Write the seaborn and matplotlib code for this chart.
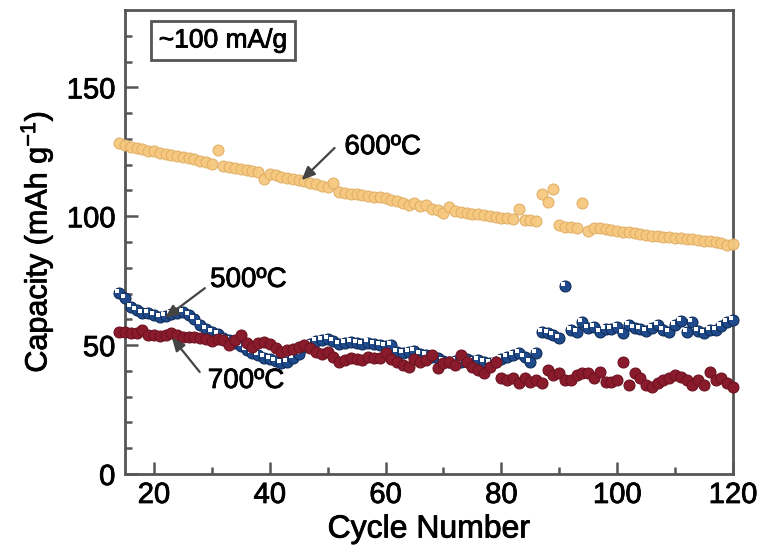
import matplotlib
matplotlib.use("Agg")
import numpy as np
import pandas as pd
import seaborn as sns
import matplotlib.pyplot as plt
import matplotlib.patheffects as pe
from matplotlib.transforms import offset_copy

cycles = list(range(14, 121))

cap_600 = [128.5, 127.5, 127.0, 126.6, 126.0, 125.5, 125.2, 124.7, 124.3, 123.9,
           123.5, 123.0, 122.5, 122.1, 121.6, 121.0, 120.4, 125.6, 119.5, 119.0,
           118.8, 118.3, 118.0, 117.5, 117.0, 114.5, 116.5, 116.0, 115.4, 115.0,
           114.5, 114.0, 113.5, 113.0, 112.5, 111.8, 111.5, 113.0, 109.5, 109.2,
           108.8, 108.5, 108.3, 108.0, 107.6, 107.3, 107.0, 106.5, 106.0, 105.0,
           104.5, 105.2, 103.8, 104.5, 103.0, 102.5, 101.2, 103.5, 102.0, 101.5,
           101.2, 101.0, 100.8, 100.5, 100.2, 99.8, 99.5, 99.2, 98.8, 102.8,
           98.5, 98.5, 98.0, 108.6, 105.5, 110.5, 96.6, 96.0, 95.8, 95.4,
           105.1, 94.4, 95.6, 95.3, 95.0, 94.8, 94.2, 94.0, 93.8, 93.5,
           93.2, 92.8, 92.5, 92.3, 92.0, 91.8, 91.5, 91.4, 91.2, 91.0,
           90.8, 90.5, 90.3, 90.0, 89.8, 89.0, 89.4]

cap_500 = [70.1, 68.2, 64.9, 63.6, 62.3, 62.3, 61.7, 61.0, 61.2, 62.0,
           62.6, 62.7, 61.7, 60.0, 58.0, 56.2, 55.2, 54.2, 52.8, 52.0,
           50.7, 49.8, 48.1, 47.0, 46.0, 45.2, 44.5, 43.8, 43.0, 43.5,
           44.9, 46.5, 49.4, 50.5, 51.5, 52.0, 52.2, 51.5, 50.4, 50.8,
           51.2, 50.9, 50.5, 51.0, 50.5, 50.0, 49.5, 50.0, 47.4, 46.8,
           47.5, 47.8, 46.5, 46.0, 45.5, 44.9, 44.0, 43.6, 44.0, 43.5,
           44.5, 44.0, 44.2, 43.5, 42.9, 43.5, 44.5, 45.5, 46.2, 47.0,
           45.5, 43.6, 46.8, 55.2, 54.6, 54.0, 52.6, 72.9, 55.9, 55.2,
           59.1, 56.5, 56.9, 55.2, 56.1, 56.1, 57.1, 54.8, 57.8, 56.5,
           56.1, 55.6, 56.5, 57.8, 55.9, 55.2, 57.8, 59.5, 55.2, 59.1,
           55.6, 54.6, 55.9, 55.9, 57.4, 59.1, 59.7]

cap_700 = [55.2, 55.2, 54.6, 54.6, 55.9, 53.9, 53.9, 53.5, 53.9, 54.6,
           53.9, 53.3, 53.0, 53.3, 52.6, 52.2, 51.7, 52.2, 52.0, 50.0,
           52.0, 53.9, 50.7, 49.4, 50.7, 51.3, 50.4, 48.8, 47.4, 48.1,
           48.5, 49.4, 50.0, 48.8, 47.4, 46.5, 47.2, 45.5, 43.6, 44.2,
           44.9, 44.5, 44.2, 45.5, 44.9, 44.9, 46.8, 44.5, 43.6, 42.3,
           41.6, 44.5, 43.6, 44.2, 46.2, 41.0, 42.9, 43.6, 42.3, 46.2,
           43.6, 41.6, 40.3, 39.1, 41.6, 43.6, 37.1, 36.5, 37.1, 35.2,
           37.1, 35.8, 36.5, 35.2, 40.3, 38.4, 39.1, 36.5, 36.5, 38.4,
           39.1, 39.1, 37.1, 39.7, 35.8, 35.8, 36.5, 43.6, 34.5, 39.1,
           37.1, 34.5, 33.9, 35.2, 36.5, 37.1, 38.4, 37.7, 36.5, 34.5,
           36.5, 34.5, 39.7, 36.5, 37.1, 35.5, 33.9]

x_ticks = [20, 40, 60, 80, 100, 120]
y_ticks = [0, 50, 100, 150]

df = pd.DataFrame({"cycle": cycles, "c600": cap_600, "c500": cap_500, "c700": cap_700})

sns.set_style("ticks")
plt.rcParams['font.family'] = ['Liberation Sans', 'DejaVu Sans']
plt.rcParams['mathtext.fontset'] = 'custom'
plt.rcParams['mathtext.rm'] = 'Liberation Sans'
plt.rcParams['mathtext.it'] = 'Liberation Sans:italic'
plt.rcParams['text.color'] = 'black'
plt.rcParams['axes.labelcolor'] = 'black'
plt.rcParams['xtick.labelcolor'] = 'black'
plt.rcParams['ytick.labelcolor'] = 'black'

bold = [pe.withStroke(linewidth=0.6, foreground="black")]

fig = plt.figure(figsize=(7.7, 5.55), dpi=100)
ax = fig.add_axes([0.1623, 0.1459, 0.7896, 0.836])

ms = 62
sns.scatterplot(data=df, x="cycle", y="c600", ax=ax, s=ms, color="#F6C97F",
                edgecolor="#E2AE66", linewidth=0.8, alpha=0.95, clip_on=False, zorder=3)
sns.scatterplot(data=df, x="cycle", y="c500", ax=ax, s=ms, color="#1F4B8C",
                edgecolor="#0E2C5A", linewidth=0.8, clip_on=False, zorder=4)
glint = offset_copy(ax.transData, fig=fig, x=-1.5, y=1.5, units='points')
ax.scatter(df["cycle"], df["c500"], s=5, color="white", marker="s",
           transform=glint, linewidth=0, clip_on=False, zorder=4.5)
sns.scatterplot(data=df, x="cycle", y="c700", ax=ax, s=ms, color="#8A1B2D",
                edgecolor="#6E1221", linewidth=0.8, clip_on=False, zorder=5)

ax.set_xlim(15, 120)
ax.set_ylim(0, 180)
ax.set_xticks(x_ticks)
ax.set_xticks([30, 50, 70, 90, 110], minor=True)
ax.set_yticks(y_ticks)
ax.set_yticks([v for v in range(10, 180, 10) if v % 50 != 0], minor=True)

spine_c = "#555555"
for sp in ax.spines.values():
    sp.set_visible(True)
    sp.set_color(spine_c)
    sp.set_linewidth(2.0)
ax.tick_params(which="major", direction="in", length=9, width=1.8, color=spine_c,
               labelsize=21, labelcolor="black")
ax.tick_params(axis="x", which="major", pad=5)
ax.tick_params(axis="y", which="major", pad=7)
ax.tick_params(which="minor", direction="in", length=5, width=1.8, color=spine_c)
for lab in ax.get_xticklabels() + ax.get_yticklabels():
    lab.set_path_effects(bold)

ax.set_xlabel("Cycle Number", fontsize=23, labelpad=4, path_effects=bold)
ax.set_ylabel("Capacity (mAh g$^{-1}$)", fontsize=22, labelpad=8, path_effects=bold)

ax.text(31.9, 168.2, "~100 mA/g", fontsize=19, ha="center", va="center", path_effects=bold,
        bbox=dict(boxstyle="square,pad=0.3", facecolor="white", edgecolor=spine_c, linewidth=2))

arrow = dict(arrowstyle="-|>,head_length=0.8,head_width=0.35", color="#444444", lw=1.6,
             shrinkA=0, shrinkB=0)
ax.annotate("", xy=(45.5, 114), xytext=(51.2, 126.5), arrowprops=arrow, zorder=6)
ax.text(52.9, 126.8, "600ºC", fontsize=20, ha="left", va="center", path_effects=bold)
ax.annotate("", xy=(21.9, 60.5), xytext=(28.8, 72.1), arrowprops=arrow, zorder=6)
ax.text(29.7, 75.3, "500ºC", fontsize=20, ha="left", va="center", path_effects=bold)
ax.annotate("", xy=(23.1, 53.0), xytext=(27.9, 39.6), arrowprops=arrow, zorder=6)
ax.text(29.3, 36.1, "700ºC", fontsize=20, ha="left", va="center", path_effects=bold)

fig.savefig("out.png", dpi=100)
